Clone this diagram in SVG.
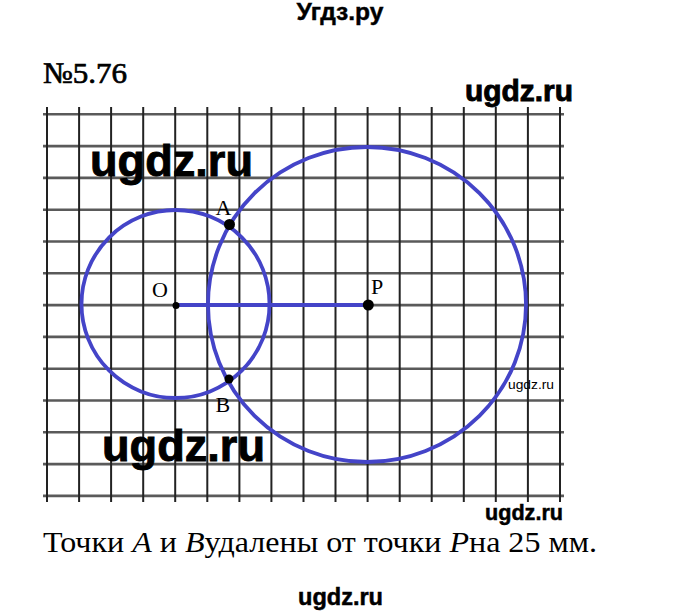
<svg xmlns="http://www.w3.org/2000/svg" width="680" height="616" viewBox="0 0 680 616">
<style>
.hl{stroke:#5a5a5a;stroke-width:2.6;fill:none}
.vl{stroke:#222;stroke-width:2;fill:none}
.blue{stroke:#4444c8;stroke-width:3.8;fill:none}
.wm{font-family:"Liberation Sans",Arial,sans-serif;font-weight:bold;fill:#000;stroke:#000;stroke-width:0.9}
.lbl{font-family:"Liberation Serif","Times New Roman",serif;font-size:22px;fill:#000}
.dot{fill:#000}
</style>
<rect width="680" height="616" fill="#fff"/>
<text class="wm" x="340" y="20" font-size="23" text-anchor="middle" textLength="87" lengthAdjust="spacingAndGlyphs" style="stroke-width:0.4">Угдз.ру</text>
<text x="43" y="83" font-family="Liberation Serif,'Times New Roman',serif" font-size="30" stroke="#000" stroke-width="0.7" textLength="84" lengthAdjust="spacingAndGlyphs">№5.76</text>
<g id="grid">
<g class="hl">
<line x1="43" y1="114.3" x2="564" y2="114.3"/>
<line x1="43" y1="146.1" x2="564" y2="146.1"/>
<line x1="43" y1="177.9" x2="564" y2="177.9"/>
<line x1="43" y1="209.7" x2="564" y2="209.7"/>
<line x1="43" y1="241.5" x2="564" y2="241.5"/>
<line x1="43" y1="273.3" x2="564" y2="273.3"/>
<line x1="43" y1="305.1" x2="564" y2="305.1"/>
<line x1="43" y1="336.9" x2="564" y2="336.9"/>
<line x1="43" y1="368.7" x2="564" y2="368.7"/>
<line x1="43" y1="400.5" x2="564" y2="400.5"/>
<line x1="43" y1="432.3" x2="564" y2="432.3"/>
<line x1="43" y1="464.1" x2="564" y2="464.1"/>
<line x1="43" y1="495.9" x2="564" y2="495.9"/>
</g>
<g class="vl">
<line x1="47" y1="107" x2="47" y2="502"/>
<line x1="79.1" y1="107" x2="79.1" y2="502"/>
<line x1="111.1" y1="107" x2="111.1" y2="502"/>
<line x1="143.2" y1="107" x2="143.2" y2="502"/>
<line x1="175.2" y1="107" x2="175.2" y2="502"/>
<line x1="207.3" y1="107" x2="207.3" y2="502"/>
<line x1="239.4" y1="107" x2="239.4" y2="502"/>
<line x1="271.4" y1="107" x2="271.4" y2="502"/>
<line x1="303.5" y1="107" x2="303.5" y2="502"/>
<line x1="335.5" y1="107" x2="335.5" y2="502"/>
<line x1="367.6" y1="107" x2="367.6" y2="502"/>
<line x1="399.7" y1="107" x2="399.7" y2="502"/>
<line x1="431.7" y1="107" x2="431.7" y2="502"/>
<line x1="463.8" y1="107" x2="463.8" y2="502"/>
<line x1="495.8" y1="107" x2="495.8" y2="502"/>
<line x1="527.9" y1="107" x2="527.9" y2="502"/>
<line x1="560" y1="107" x2="560" y2="502"/>
</g>
</g>
<g id="circle-O"><circle class="blue" cx="175.5" cy="304" r="94"/></g>
<g id="circle-P"><ellipse class="blue" cx="367" cy="304.5" rx="159" ry="157.5"/></g>
<g id="connectors"><line class="blue" x1="176" y1="305" x2="368" y2="305"/></g>
<g id="point-O"><circle class="dot" cx="176" cy="305.5" r="3.5"/><text class="lbl" x="152" y="297">O</text></g>
<g id="point-P"><circle class="dot" cx="368.3" cy="305" r="5.5"/><text class="lbl" x="371" y="294">P</text></g>
<g id="point-A"><circle class="dot" cx="229.5" cy="224.5" r="5.5"/><text class="lbl" x="215.5" y="215">A</text></g>
<g id="point-B"><circle class="dot" cx="229" cy="379" r="4.5"/><text class="lbl" x="215.5" y="411.5">B</text></g>
<text class="wm" x="90" y="176" font-size="45" textLength="163" lengthAdjust="spacingAndGlyphs">ugdz.ru</text>
<text class="wm" x="102" y="461" font-size="45" textLength="163" lengthAdjust="spacingAndGlyphs">ugdz.ru</text>
<text class="wm" x="465" y="101" font-size="30" textLength="108" lengthAdjust="spacingAndGlyphs">ugdz.ru</text>
<text x="508" y="389" font-family="Liberation Sans,Arial,sans-serif" font-size="13.5" textLength="46" lengthAdjust="spacingAndGlyphs">ugdz.ru</text>
<text class="wm" x="485" y="520" font-size="22" textLength="78" lengthAdjust="spacingAndGlyphs" style="stroke-width:0.5">ugdz.ru</text>
<text x="43" y="552" font-family="Liberation Serif,'Times New Roman',serif" font-size="29" textLength="554" lengthAdjust="spacingAndGlyphs">Точки <tspan font-style="italic">A</tspan> и <tspan font-style="italic">B</tspan>удалены от точки <tspan font-style="italic">P</tspan>на 25 мм.</text>
<text class="wm" x="298" y="605" font-size="23.5" textLength="85" lengthAdjust="spacingAndGlyphs" style="stroke-width:0.5">ugdz.ru</text>
</svg>
